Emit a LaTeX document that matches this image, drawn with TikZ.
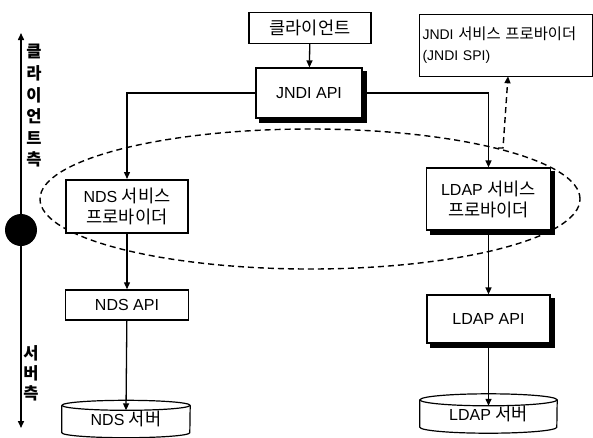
\documentclass[tikz,border=0pt]{standalone}
\usepackage{fontspec}
\setmainfont{Liberation Sans}
\newfontfamily\kr[Scale=1.1]{Noto Sans CJK KR}
\usetikzlibrary{arrows.meta,backgrounds}
\begin{document}
\begin{tikzpicture}[x=1pt,y=-1pt,
  box/.style={draw,line width=1.2pt,fill=white,inner sep=0pt,align=center,font=\fontsize{16}{21}\selectfont},
  thickbox/.style={box,line width=2pt},
  arr/.style={line width=1.3pt,-{Triangle[length=7pt,width=6pt]}},
  dsh/.style={line width=1.4pt,dash pattern=on 6pt off 4pt},
  cyl/.style={line width=1.2pt},
  shade/.style={fill=black},
  side/.style={font=\kr\bfseries\fontsize{15}{21.6}\selectfont,align=center,inner sep=0pt}]
\useasboundingbox (0,0) rectangle (593,437);

% dashed group ellipse
\draw[dsh] (310,199) ellipse [x radius=270pt, y radius=70pt];

% nodes
\node[box,minimum width=122pt,minimum height=31pt] (client) at (310,28) {\kr 클라이언트};
\node[box,minimum width=106pt,minimum height=50pt] (jndi) at (309,93) {JNDI API};
\node[draw,line width=0.6pt,fill=white,minimum width=173pt,minimum height=62pt,text width=166pt,inner xsep=3pt,align=left,
      font=\fontsize{14}{21}\selectfont] (spi) at (505.5,45) {JNDI {\kr 서비스 프로바이더}\\(JNDI SPI)};
\node[thickbox,minimum width=122pt,minimum height=53pt] (ndsprov) at (127,206.5) {NDS {\kr 서비스}\\{\kr 프로바이더}};
\node[box,minimum width=124pt,minimum height=62pt] (ldapprov) at (488.5,199) {LDAP {\kr 서비스}\\{\kr 프로바이더}};
\node[box,line width=1.5pt,minimum width=123pt,minimum height=30pt] (ndsapi) at (127,305) {NDS API};
\node[box,minimum width=123pt,minimum height=48pt] (ldapapi) at (488.5,319) {LDAP API};

% shadows
\begin{scope}[on background layer]
\foreach \n in {jndi,ldapprov,ldapapi}
  \fill[shade] ([shift={(4pt,-4pt)}]\n.south west) rectangle ([shift={(4pt,-4pt)}]\n.north east);
\end{scope}

% cylinders (servers)
\node[inner sep=0pt,minimum width=128pt,minimum height=37pt,font=\fontsize{16}{21}\selectfont] (ndsserver) at (126,419) {NDS {\kr 서버}};
\draw[cyl] ([yshift=-5pt]ndsserver.north) ellipse [x radius=64pt, y radius=5pt];
\draw[cyl] ([yshift=-5pt]ndsserver.north west) -- ([yshift=5pt]ndsserver.south west)
  arc[start angle=180,end angle=360,x radius=64pt,y radius=5pt] -- ([yshift=-5pt]ndsserver.north east);

\node[inner sep=0pt,minimum width=137pt,minimum height=39pt,font=\fontsize{16}{21}\selectfont] (ldapserver) at (488.5,413.5) {LDAP {\kr 서버}};
\draw[cyl] ([yshift=-6pt]ldapserver.north) ellipse [x radius=68.5pt, y radius=6pt];
\draw[cyl] ([yshift=-6pt]ldapserver.north west) -- ([yshift=6pt]ldapserver.south west)
  arc[start angle=180,end angle=360,x radius=68.5pt,y radius=6pt] -- ([yshift=-6pt]ldapserver.north east);

% connectors
\draw[arr] (client) -- (jndi);
\draw[arr] (jndi.west) -| (ndsprov.north);
\draw[arr] (jndi.east) -| (ldapprov.north);
\draw[arr] (ndsprov) -- (ndsapi);
\draw[arr] (ldapprov) -- (ldapapi);
\draw[arr] (ndsapi) -- ([yshift=-10pt]ndsserver.north);
\draw[arr] (ldapapi) -- ([yshift=-12pt]ldapserver.north);

\coordinate (spistart) at (498,148);
\draw[arr,dsh] (spistart) -- ++(5,0) -- ([xshift=2.5pt]spi.south);

% left axis
\node[circle,fill=black,minimum size=32pt,inner sep=0pt] (dot) at (21,230) {};
\coordinate (axtop) at (21,33);
\coordinate (axbot) at (21,428);
\draw[arr,line width=1.5pt] (dot) -- (axtop);
\draw[arr,line width=1.5pt] (dot) -- (axbot);
\node[side] (clientside) at (34,106) {클\\라\\이\\언\\트\\측};
\node[side,font=\kr\bfseries\fontsize{15}{20}\selectfont] (serverside) at (31,373) {서\\버\\측};
\end{tikzpicture}
\end{document}
